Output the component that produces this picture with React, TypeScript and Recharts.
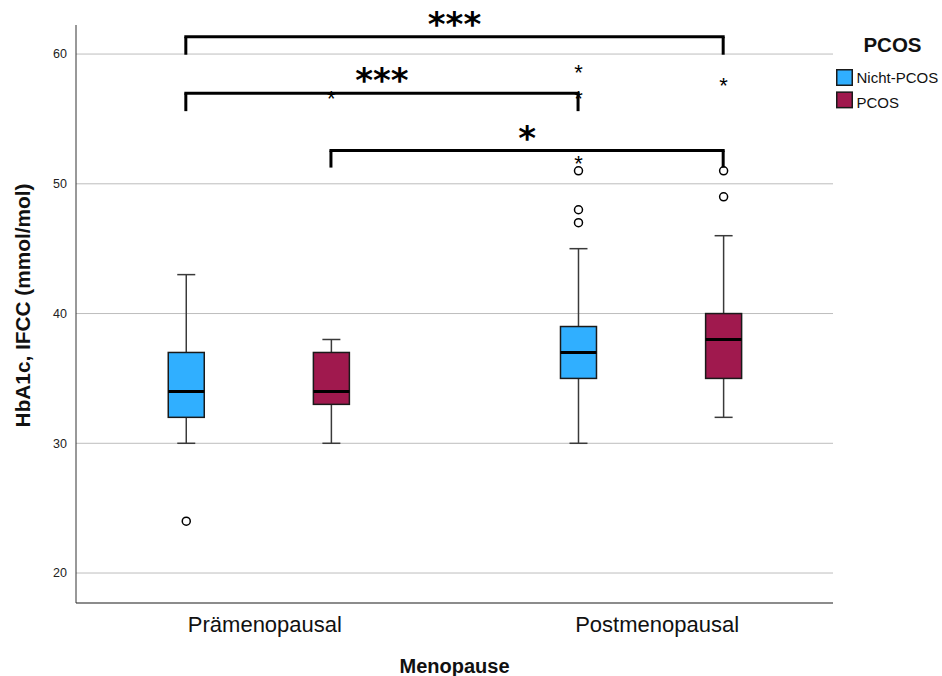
import React from 'react';
import {
  ComposedChart,
  Bar,
  XAxis,
  YAxis,
  CartesianGrid,
  ReferenceLine,
  Legend,
} from 'recharts';

// ---------- data ----------
const CATEGORIES = ['Prämenopausal', 'Postmenopausal'];
const SERIES = ['Nicht-PCOS', 'PCOS'];
// indexed [category][series]
const WHISKER_LOW = [[30, 30], [30, 32]];
const Q1 = [[32, 33], [35, 35]];
const MEDIAN = [[34, 34], [37, 38]];
const Q3 = [[37, 37], [39, 40]];
const WHISKER_HIGH = [[43, 38], [45, 46]];
const OUTLIERS = [[[24], []], [[47, 48, 51], [49, 51]]];
const EXTREMES = [[[], [57]], [[52, 57, 59], [58]]];
const Y_TICKS = [20, 30, 40, 50, 60];

// significance brackets: from/to = [categoryIndex, seriesIndex]
const BRACKET_FROM = [[0, 0], [0, 0], [0, 1]];
const BRACKET_TO = [[1, 1], [1, 0], [1, 1]];
const BRACKET_LEVEL = [61.33, 56.97, 52.56];
const BRACKET_LEG_END = [59.95, 55.6, 51.25];
const BRACKET_LABEL = ['***', '***', '*'];

// ---------- layout / style ----------
const OFFSET = 0.185;
const COLORS = ['#30AFFF', '#A0194E'];
const FONT = '"Liberation Sans", Arial, sans-serif';

const posOf = (ci: number, si: number) => ci + 1 + (si === 0 ? -OFFSET : OFFSET);

const rows = CATEGORIES.flatMap((c, ci) =>
  SERIES.map((s, si) => ({
    category: c,
    series: s,
    ci,
    si,
    pos: posOf(ci, si),
    lo: WHISKER_LOW[ci][si],
    q1: Q1[ci][si],
    med: MEDIAN[ci][si],
    q3: Q3[ci][si],
    hi: WHISKER_HIGH[ci][si],
    outliers: OUTLIERS[ci][si],
    extremes: EXTREMES[ci][si],
    range: [WHISKER_LOW[ci][si], WHISKER_HIGH[ci][si]],
  }))
);

const BoxShape = (props: any) => {
  const { x, y, width, height, payload } = props;
  const lo = payload.lo;
  const hi = payload.hi;
  const k = height / (hi - lo);
  const Y = (v: number) => y + (hi - v) * k;
  const cx = x + width / 2;
  const cap = 9;
  const color = COLORS[payload.si];
  const fs = 22;
  return (
    <g>
      <line x1={cx} x2={cx} y1={Y(hi)} y2={Y(payload.q3)} stroke="#3a3a3a" strokeWidth={1.5} />
      <line x1={cx} x2={cx} y1={Y(payload.q1)} y2={Y(lo)} stroke="#3a3a3a" strokeWidth={1.5} />
      <line x1={cx - cap} x2={cx + cap} y1={Y(hi)} y2={Y(hi)} stroke="#3a3a3a" strokeWidth={1.5} />
      <line x1={cx - cap} x2={cx + cap} y1={Y(lo)} y2={Y(lo)} stroke="#3a3a3a" strokeWidth={1.5} />
      <rect
        x={x}
        y={Y(payload.q3)}
        width={width}
        height={Y(payload.q1) - Y(payload.q3)}
        fill={color}
        stroke="#1a1a1a"
        strokeWidth={1.5}
      />
      <line x1={x} x2={x + width} y1={Y(payload.med)} y2={Y(payload.med)} stroke="#000" strokeWidth={3} />
      {payload.outliers.map((v: number, i: number) => (
        <circle key={'o' + i} cx={cx} cy={Y(v)} r={4} fill="#fff" stroke="#000" strokeWidth={1.5} />
      ))}
      {payload.extremes.map((v: number, i: number) => (
        <text
          key={'e' + i}
          x={cx}
          y={Y(v) + fs * 0.6}
          textAnchor="middle"
          fontSize={fs}
          fontFamily={FONT}
          fill="#000"
        >
          *
        </text>
      ))}
    </g>
  );
};

const XTick = (props: any) => {
  const { x, y, payload } = props;
  return (
    <text x={x + 6.5} y={y + 28.5} textAnchor="middle" fontSize={22} fontFamily={FONT} fill="#111">
      {CATEGORIES[payload.value - 1]}
    </text>
  );
};

const SigLabel = (text: string) => (props: any) => {
  const vb = props.viewBox || {};
  const mx = vb.x + (vb.width || 0) / 2;
  return (
    <text
      x={mx}
      y={vb.y - 1}
      textAnchor="middle"
      fontSize={34}
      fontWeight="bold"
      fontFamily='"DejaVu Sans", sans-serif'
      fill="#000"
    >
      {text}
    </text>
  );
};

const LegendContent = () => (
  <svg width={112} height={100} style={{ display: 'block', overflow: 'visible' }}>
    <text x={62.5} y={31.7} textAnchor="middle" fontSize={20.5} fontWeight="bold" fontFamily={FONT} fill="#111">
      PCOS
    </text>
    {SERIES.map((s, i) => (
      <g key={s}>
        <rect x={6.75} y={49.75 + i * 22.4} width={15.5} height={15.5} fill={COLORS[i]} stroke="#1a1a1a" strokeWidth={1.5} />
        <text x={26.5} y={63.3 + i * 24.4} fontSize={15} fontFamily={FONT} fill="#111">
          {s}
        </text>
      </g>
    ))}
  </svg>
);

export default function App() {
  return (
    <div style={{ position: 'absolute', left: 0, top: 0, background: '#fff' }}>
      <ComposedChart
        width={942}
        height={676}
        data={rows}
        margin={{ top: 25, right: 109, left: 0, bottom: 0 }}
      >
        <CartesianGrid horizontal vertical={false} horizontalValues={Y_TICKS} stroke="#bdbdbd" strokeWidth={1} />
        <XAxis
          dataKey="pos"
          type="number"
          domain={[0.535, 2.465]}
          allowDataOverflow
          ticks={[1, 2]}
          tick={<XTick />}
          tickLine={false}
          tickSize={0}
          tickMargin={0}
          height={73}
          axisLine={{ stroke: '#666', strokeWidth: 1.5 }}
          label={{
            value: 'Menopause',
            position: 'insideBottom',
            offset: 3.3,
            style: { fontSize: 20, fontWeight: 'bold', fontFamily: FONT, fill: '#111' },
          }}
        />
        <YAxis
          type="number"
          domain={[17.69, 62.24]}
          allowDataOverflow
          ticks={Y_TICKS}
          tickLine={false}
          tickSize={0}
          tickMargin={9}
          width={76}
          axisLine={{ stroke: '#333', strokeWidth: 1 }}
          tick={{ fontSize: 12.5, fontFamily: FONT, fill: '#222' }}
          label={{
            value: 'HbA1c, IFCC (mmol/mol)',
            angle: -90,
            position: 'insideLeft',
            offset: 23,
            dy: -8.5,
            style: { textAnchor: 'middle', fontSize: 20.8, fontWeight: 'bold', fontFamily: FONT, fill: '#111' },
          }}
        />
        <Legend
          layout="vertical"
          align="center"
          verticalAlign="middle"
          content={<LegendContent />}
          wrapperStyle={{ left: 830, top: 20, width: 112, height: 100 }}
        />
        <Bar dataKey="range" barSize={36} shape={<BoxShape />} isAnimationActive={false} />
        {BRACKET_LEVEL.map((lvl, b) => {
          const x1 = posOf(BRACKET_FROM[b][0], BRACKET_FROM[b][1]);
          const x2 = posOf(BRACKET_TO[b][0], BRACKET_TO[b][1]);
          const leg = BRACKET_LEG_END[b];
          return (
            <React.Fragment key={'b' + b}>
              <ReferenceLine
                segment={[{ x: x1, y: lvl }, { x: x2, y: lvl }]}
                stroke="#000"
                strokeWidth={3}
                strokeLinecap="square"
                ifOverflow="visible"
                label={SigLabel(BRACKET_LABEL[b])}
              />
              <ReferenceLine
                segment={[{ x: x1, y: lvl }, { x: x1, y: leg }]}
                stroke="#000"
                strokeWidth={3}
                ifOverflow="visible"
              />
              <ReferenceLine
                segment={[{ x: x2, y: lvl }, { x: x2, y: leg }]}
                stroke="#000"
                strokeWidth={3}
                ifOverflow="visible"
              />
            </React.Fragment>
          );
        })}
      </ComposedChart>
    </div>
  );
}
